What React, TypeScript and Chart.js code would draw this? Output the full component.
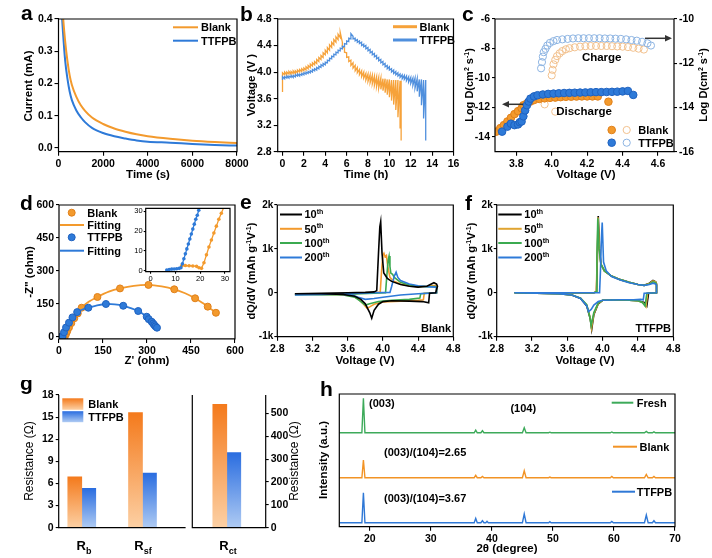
import React, { useEffect, useRef } from "react";
import { Chart, registerables } from "chart.js";

Chart.register(...registerables);

const FONT = "'Liberation Sans', Arial, Helvetica, sans-serif";
Chart.defaults.font.family = FONT;

/* ======================= DATA ======================= */
// (a) current vs time
const A_TIME = [100, 200, 300, 400, 500, 600, 800, 1000, 1200, 1500, 2000, 2500, 3000, 3500, 4000, 5000, 6000, 7000, 8000];
const A_BLANK = [0.52, 0.41, 0.33, 0.27, 0.225, 0.195, 0.158, 0.132, 0.114, 0.094, 0.074, 0.06, 0.05, 0.042, 0.036, 0.028, 0.022, 0.018, 0.015];
const A_TTFPB = [0.47, 0.36, 0.27, 0.215, 0.175, 0.148, 0.116, 0.095, 0.079, 0.062, 0.046, 0.036, 0.029, 0.023, 0.019, 0.016, 0.012, 0.009, 0.007];
const A_X_TICKS = [0, 2000, 4000, 6000, 8000];
const A_Y_TICKS = [0, 0.1, 0.2, 0.3, 0.4];

// (b) GITT voltage profiles: pulse times, closed-circuit and relaxed voltages
const B_BLANK_CH_T = [0, 0.2, 0.4, 0.6, 0.8, 1.0, 1.2, 1.4, 1.6, 1.8, 2.0, 2.2, 2.4, 2.6, 2.8, 3.0, 3.2, 3.4, 3.6, 3.8, 4.0, 4.2, 4.4, 4.6, 4.8, 5.0, 5.2, 5.4];
const B_BLANK_CH_HI = [3.99, 4.0, 4.0, 4.01, 4.01, 4.02, 4.02, 4.03, 4.04, 4.05, 4.06, 4.08, 4.1, 4.12, 4.14, 4.16, 4.19, 4.22, 4.25, 4.29, 4.33, 4.37, 4.41, 4.45, 4.49, 4.53, 4.57, 4.6];
const B_BLANK_CH_LO = [3.7, 3.96, 3.96, 3.97, 3.97, 3.98, 3.98, 3.99, 4.0, 4.01, 4.02, 4.03, 4.05, 4.07, 4.09, 4.11, 4.13, 4.16, 4.19, 4.22, 4.26, 4.29, 4.33, 4.37, 4.41, 4.45, 4.49, 4.52];
const B_BLANK_DIS_T = [5.6, 5.8, 6.0, 6.2, 6.4, 6.6, 6.8, 7.0, 7.2, 7.4, 7.6, 7.8, 8.0, 8.2, 8.4, 8.6, 8.8, 9.0, 9.2, 9.4, 9.6, 9.8, 10.0, 10.2, 10.4, 10.6, 10.8, 11.0, 11.1];
const B_BLANK_DIS_HI = [4.45, 4.36, 4.29, 4.23, 4.18, 4.14, 4.1, 4.07, 4.04, 4.02, 4.0, 3.98, 3.97, 3.96, 3.95, 3.94, 3.93, 3.92, 3.91, 3.9, 3.9, 3.89, 3.89, 3.88, 3.88, 3.88, 3.88, 3.87, 3.87];
const B_BLANK_DIS_LO = [4.38, 4.3, 4.22, 4.16, 4.1, 4.06, 4.02, 3.99, 3.96, 3.93, 3.91, 3.88, 3.86, 3.84, 3.82, 3.8, 3.78, 3.76, 3.74, 3.72, 3.69, 3.66, 3.62, 3.57, 3.51, 3.43, 3.32, 3.15, 2.97];
const B_TTFPB_CH_T = [0, 0.2, 0.4, 0.6, 0.8, 1.0, 1.2, 1.4, 1.6, 1.8, 2.0, 2.2, 2.4, 2.6, 2.8, 3.0, 3.2, 3.4, 3.6, 3.8, 4.0, 4.2, 4.4, 4.6, 4.8, 5.0, 5.2, 5.4, 5.6, 5.8, 6.0, 6.2, 6.4];
const B_TTFPB_CH_HI = [3.93, 3.93, 3.94, 3.94, 3.95, 3.95, 3.96, 3.97, 3.97, 3.98, 3.99, 4.0, 4.01, 4.02, 4.04, 4.05, 4.07, 4.09, 4.11, 4.13, 4.15, 4.18, 4.21, 4.24, 4.27, 4.3, 4.33, 4.36, 4.39, 4.43, 4.47, 4.51, 4.58];
const B_TTFPB_CH_LO = [3.88, 3.9, 3.91, 3.91, 3.92, 3.92, 3.93, 3.94, 3.94, 3.95, 3.96, 3.97, 3.98, 3.99, 4.0, 4.02, 4.03, 4.05, 4.07, 4.09, 4.11, 4.14, 4.17, 4.2, 4.23, 4.26, 4.29, 4.32, 4.35, 4.38, 4.42, 4.46, 4.5];
const B_TTFPB_DIS_T = [6.6, 6.8, 7.0, 7.2, 7.4, 7.6, 7.8, 8.0, 8.2, 8.4, 8.6, 8.8, 9.0, 9.2, 9.4, 9.6, 9.8, 10.0, 10.2, 10.4, 10.6, 10.8, 11.0, 11.2, 11.4, 11.6, 11.8, 12.0, 12.2, 12.4, 12.6, 12.8, 13.0, 13.2, 13.4];
const B_TTFPB_DIS_HI = [4.54, 4.51, 4.49, 4.47, 4.45, 4.42, 4.4, 4.37, 4.34, 4.31, 4.28, 4.25, 4.22, 4.19, 4.16, 4.13, 4.1, 4.08, 4.05, 4.03, 4.01, 3.99, 3.97, 3.96, 3.95, 3.94, 3.93, 3.92, 3.91, 3.91, 3.9, 3.89, 3.89, 3.88, 3.88];
const B_TTFPB_DIS_LO = [4.5, 4.47, 4.45, 4.43, 4.4, 4.38, 4.35, 4.32, 4.29, 4.26, 4.23, 4.2, 4.17, 4.14, 4.11, 4.08, 4.05, 4.03, 4.0, 3.98, 3.96, 3.94, 3.92, 3.9, 3.89, 3.87, 3.85, 3.83, 3.8, 3.76, 3.71, 3.63, 3.5, 3.3, 2.97];
const B_X_TICKS = [0, 2, 4, 6, 8, 10, 12, 14, 16];
const B_Y_TICKS = [2.8, 3.2, 3.6, 4.0, 4.4, 4.8];

// (c) Li diffusion coefficients
const C_BLANK_DIS_V = [3.687, 3.71, 3.73, 3.75, 3.77, 3.79, 3.81, 3.83, 3.84, 3.86, 3.88, 3.9, 3.93, 3.96, 3.99, 4.02, 4.05, 4.08, 4.11, 4.14, 4.17, 4.2, 4.23, 4.26, 4.32];
const C_BLANK_DIS_D = [-13.64, -13.4, -13.2, -12.95, -12.7, -12.45, -12.25, -12.05, -11.85, -11.72, -11.6, -11.5, -11.42, -11.38, -11.35, -11.33, -11.3, -11.28, -11.27, -11.26, -11.25, -11.25, -11.25, -11.25, -11.61];
const C_TTFPB_DIS_V = [3.72, 3.75, 3.77, 3.79, 3.81, 3.82, 3.83, 3.84, 3.85, 3.86, 3.87, 3.88, 3.9, 3.92, 3.95, 3.98, 4.01, 4.04, 4.07, 4.1, 4.13, 4.16, 4.19, 4.22, 4.25, 4.28, 4.31, 4.34, 4.37, 4.4, 4.43, 4.46];
const C_TTFPB_DIS_D = [-13.64, -13.3, -13.1, -13.2, -13.15, -13.0, -12.95, -12.6, -12.2, -11.85, -11.6, -11.4, -11.25, -11.17, -11.12, -11.08, -11.06, -11.04, -11.02, -11.01, -11.0, -10.99, -10.98, -10.97, -10.96, -10.96, -10.95, -10.94, -10.93, -10.91, -10.88, -11.15];
const C_BLANK_CH_V = [4.0, 4.005, 4.01, 4.02, 4.03, 4.045, 4.06, 4.08, 4.1, 4.13, 4.16, 4.19, 4.22, 4.25, 4.28, 4.31, 4.34, 4.37, 4.4, 4.43, 4.46, 4.49, 4.52, 3.96, 4.02];
const C_BLANK_CH_D = [-12.55, -12.3, -12.05, -11.85, -11.68, -11.55, -11.45, -11.37, -11.32, -11.28, -11.25, -11.23, -11.22, -11.22, -11.22, -11.22, -11.23, -11.24, -11.25, -11.27, -11.3, -11.34, -11.38, -13.86, -14.19];
const C_TTFPB_CH_V = [3.94, 3.945, 3.95, 3.955, 3.965, 3.975, 3.99, 4.01, 4.03, 4.06, 4.09, 4.12, 4.15, 4.18, 4.21, 4.24, 4.27, 4.3, 4.33, 4.36, 4.39, 4.42, 4.45, 4.48, 4.51, 4.54, 4.56];
const C_TTFPB_CH_D = [-12.23, -11.95, -11.7, -11.5, -11.35, -11.2, -11.08, -11.0, -10.95, -10.92, -10.9, -10.88, -10.87, -10.87, -10.87, -10.87, -10.87, -10.88, -10.88, -10.89, -10.9, -10.92, -10.95, -10.98, -11.03, -11.1, -11.2];
const C_X_TICKS = [3.8, 4.0, 4.2, 4.4, 4.6];
const C_YL_TICKS = [-14, -12, -10, -8, -6];
const C_YR_TICKS = [-16, -14, -12, -10];

// (d) EIS Nyquist
const D_BLANK_X = [13, 20, 24, 28, 34, 42, 52, 64, 77, 131, 208, 305, 393, 464, 507, 535];
const D_BLANK_Y = [2.5, 1.5, 12, 25, 42, 62, 84, 106, 132, 181, 220, 236, 216, 175, 137, 109];
const D_BLANK_FIT_X = [20, 24, 30, 40, 55, 77, 100, 131, 170, 208, 255, 305, 350, 393, 430, 464, 490, 507, 535];
const D_BLANK_FIT_Y = [0, 12, 32, 58, 90, 132, 158, 181, 205, 220, 232, 236, 229, 216, 198, 175, 153, 137, 109];
const D_TTFPB_X = [7, 12, 17, 24, 34, 46, 62, 100, 160, 219, 270, 299, 306, 316, 321, 325, 329, 334];
const D_TTFPB_Y = [0.5, 1, 20, 42, 64, 88, 112, 132, 149, 141, 117, 91, 80, 68, 60, 53, 47, 41];
const D_TTFPB_FIT_X = [10, 17, 24, 34, 46, 62, 80, 100, 130, 160, 190, 219, 245, 270, 299, 316, 334];
const D_TTFPB_FIT_Y = [0, 20, 42, 64, 88, 112, 124, 132, 143, 149, 147, 141, 130, 117, 91, 68, 41];
const D_IN_BLANK_X = [12.5, 14, 15.5, 17, 18.5, 19.5, 20.5, 21.5, 22.5, 23.5, 24.5, 25.5, 26.5, 27.5, 28.5, 29.5];
const D_IN_BLANK_Y = [2.5, 2.6, 2.5, 2.4, 2.2, 1.5, 1.2, 4, 8, 12, 15.5, 19, 22.5, 26, 29, 32];
const D_IN_TTFPB_X = [6.5, 7.5, 8.5, 9.5, 10.5, 11.5, 12.2, 12.8, 13.4, 14, 14.6, 15.2, 15.8, 16.4, 17, 17.6, 18.2, 18.8, 19.4, 20];
const D_IN_TTFPB_Y = [0.3, 0.6, 0.8, 0.9, 1, 1.2, 1.5, 3.5, 6, 8.5, 11, 13.5, 16, 18.5, 21, 23.5, 26, 28, 30.5, 33];
const D_TICKS = [0, 150, 300, 450, 600];
const D_IN_TICKS = [0, 10, 20, 30];

// (e) dQ/dV Blank (k = 1000 mAh g-1 V-1)
const E_10_V = [3.0, 3.3, 3.6, 3.8, 3.9, 3.93, 3.95, 3.965, 3.975, 3.99, 4.01, 4.05, 4.1, 4.2, 4.3, 4.4, 4.5, 4.55, 4.58, 4.61, 4.62, 4.6, 4.53, 4.52, 4.45, 4.3, 4.1, 4.0, 3.95, 3.9, 3.873, 3.85, 3.8, 3.75, 3.68, 3.55, 3.3, 3.0];
const E_10_Y = [-0.02, -0.01, 0, 0.01, 0.02, 0.05, 0.9, 1.5, 1.62, 0.9, 0.45, 0.33, 0.26, 0.19, 0.15, 0.13, 0.15, 0.2, 0.23, 0.2, 0.15, 0, -0.01, -0.23, -0.2, -0.19, -0.18, -0.2, -0.26, -0.4, -0.58, -0.45, -0.25, -0.15, -0.08, -0.04, -0.02, -0.02];
const E_50_V = [3.0, 3.3, 3.6, 3.9, 3.97, 3.985, 4.0, 4.012, 4.025, 4.04, 4.055, 4.08, 4.12, 4.2, 4.3, 4.4, 4.5, 4.6, 4.61, 4.61, 4.47, 4.46, 4.4, 4.2, 4.0, 3.9, 3.85, 3.82, 3.78, 3.72, 3.65, 3.5, 3.0];
const E_50_Y = [-0.04, -0.03, -0.02, 0, 0.02, 0.5, 0.85, 0.9, 0.82, 0.85, 0.6, 0.35, 0.27, 0.2, 0.16, 0.14, 0.15, 0.17, 0.15, 0, -0.01, -0.16, -0.17, -0.19, -0.21, -0.26, -0.32, -0.35, -0.26, -0.14, -0.07, -0.04, -0.03];
const E_100_V = [3.0, 3.3, 3.6, 3.9, 4.03, 4.045, 4.06, 4.07, 4.08, 4.09, 4.11, 4.13, 4.2, 4.3, 4.4, 4.5, 4.6, 4.61, 4.61, 4.43, 4.42, 4.3, 4.1, 3.95, 3.85, 3.8, 3.75, 3.68, 3.55, 3.0];
const E_100_Y = [-0.05, -0.04, -0.03, -0.01, 0, 0.4, 0.75, 0.84, 0.6, 0.45, 0.42, 0.35, 0.24, 0.18, 0.15, 0.14, 0.14, 0.12, 0, -0.02, -0.12, -0.15, -0.17, -0.2, -0.25, -0.28, -0.2, -0.1, -0.05, -0.04];
const E_200_V = [3.0, 3.3, 3.6, 3.9, 4.08, 4.1, 4.13, 4.15, 4.17, 4.2, 4.3, 4.4, 4.5, 4.6, 4.61, 4.61, 4.4, 4.2, 4.0, 3.9, 3.8, 3.72, 3.65, 3.5, 3.0];
const E_200_Y = [-0.05, -0.04, -0.02, 0, 0.01, 0.15, 0.38, 0.47, 0.35, 0.28, 0.2, 0.16, 0.14, 0.13, 0.1, 0, -0.02, -0.05, -0.1, -0.13, -0.15, -0.1, -0.05, -0.03, -0.02];

// (f) dQ/dV TTFPB
const F_10_V = [3.0, 3.5, 3.9, 3.93, 3.94, 3.95, 3.965, 3.98, 4.02, 4.1, 4.2, 4.3, 4.4, 4.47, 4.53, 4.57, 4.6, 4.61, 4.61, 4.52, 4.5, 4.47, 4.4, 4.2, 4.0, 3.95, 3.9, 3.876, 3.86, 3.82, 3.75, 3.65, 3.5, 3.0];
const F_10_Y = [0, 0, 0, 0.02, 0.8, 1.75, 1.0, 0.65, 0.5, 0.38, 0.3, 0.24, 0.19, 0.17, 0.22, 0.28, 0.25, 0.2, 0, -0.01, -0.3, -0.22, -0.18, -0.16, -0.17, -0.25, -0.5, -0.83, -0.6, -0.3, -0.13, -0.05, -0.02, 0];
const F_50_V = [3.0, 3.5, 3.9, 3.928, 3.938, 3.948, 3.963, 3.98, 4.02, 4.1, 4.2, 4.3, 4.4, 4.47, 4.53, 4.57, 4.6, 4.61, 4.61, 4.51, 4.49, 4.46, 4.4, 4.2, 4.0, 3.95, 3.9, 3.874, 3.86, 3.82, 3.75, 3.65, 3.5, 3.0];
const F_50_Y = [0, 0, 0, 0.02, 0.8, 1.72, 1.0, 0.66, 0.5, 0.38, 0.3, 0.24, 0.19, 0.17, 0.21, 0.27, 0.25, 0.2, 0, -0.01, -0.32, -0.23, -0.18, -0.16, -0.17, -0.24, -0.48, -0.8, -0.58, -0.28, -0.12, -0.05, -0.02, 0];
const F_100_V = [3.0, 3.5, 3.9, 3.925, 3.935, 3.945, 3.96, 3.98, 4.02, 4.1, 4.2, 4.3, 4.4, 4.47, 4.53, 4.57, 4.6, 4.61, 4.61, 4.5, 4.48, 4.45, 4.4, 4.2, 4.0, 3.95, 3.9, 3.87, 3.855, 3.82, 3.75, 3.65, 3.5, 3.0];
const F_100_Y = [0, 0, 0, 0.02, 0.8, 1.7, 1.0, 0.66, 0.5, 0.38, 0.3, 0.24, 0.19, 0.17, 0.2, 0.25, 0.23, 0.18, 0, -0.01, -0.3, -0.22, -0.18, -0.16, -0.17, -0.23, -0.45, -0.75, -0.55, -0.27, -0.12, -0.05, -0.02, 0];
const F_200_V = [3.0, 3.5, 3.9, 3.965, 3.975, 3.985, 3.995, 4.01, 4.04, 4.1, 4.2, 4.3, 4.4, 4.47, 4.53, 4.57, 4.6, 4.61, 4.61, 4.47, 4.46, 4.43, 4.35, 4.2, 4.0, 3.95, 3.9, 3.87, 3.84, 3.82, 3.75, 3.65, 3.5, 3.0];
const F_200_Y = [0, 0, 0, 0, 0.5, 1.2, 1.6, 0.7, 0.5, 0.37, 0.29, 0.23, 0.19, 0.17, 0.19, 0.22, 0.2, 0.17, 0, -0.01, -0.16, -0.15, -0.16, -0.16, -0.17, -0.2, -0.28, -0.38, -0.43, -0.3, -0.13, -0.05, -0.02, 0];
const EF_X_TICKS = [2.8, 3.2, 3.6, 4.0, 4.4, 4.8];
const EF_Y_TICKS = [-1, 0, 1, 2];
const EF_CYCLES = ["10", "50", "100", "200"];

// (g) fitted resistances
const G_POS = [1, 2]; // R_b, R_sf
const G_BLANK = [6.9, 15.6];
const G_TTFPB = [5.35, 7.4];
const G_RCT_POS = [0.47];
const G_RCT_BLANK = [539];
const G_RCT_TTFPB = [328];
const G_L_TICKS = [0, 3, 6, 9, 12, 15, 18];
const G_R_TICKS = [0, 100, 200, 300, 400, 500];

// (h) XRD patterns (relative intensity)
const H_X = [15, 18.7, 18.95, 19.2, 37.1, 37.35, 37.6, 38.2, 38.45, 38.7, 39.0, 39.2, 39.4, 45.0, 45.3, 45.6, 49.3, 49.5, 49.7, 59.4, 59.65, 59.9, 65.0, 65.3, 65.6, 66.3, 66.55, 66.8, 70];
const H_FRESH = [0, 0, 26, 0, 0, 2, 0, 0, 1.5, 0, 0, 0, 0, 0, 3.8, 0, 0, 0.4, 0, 0, 0.6, 0, 0, 1, 0, 0, 0.7, 0, 0];
const H_BLANK = [0, 0, 13.4, 0, 0, 1.8, 0, 0, 1, 0, 0, 0, 0, 0, 5.3, 0, 0, 0.5, 0, 0, 1, 0, 0, 2.5, 0, 0, 1, 0, 0];
const H_TTFPB = [0, 0, 22.6, 0, 0, 3.3, 0, 0, 1.5, 0, 0, 1, 0, 0, 6.6, 0, 0, 0.8, 0, 0, 1, 0, 0, 5.8, 0, 0, 1.5, 0, 0];
const H_X_TICKS = [20, 30, 40, 50, 60, 70];

/* ======================= STYLE ======================= */
const ORANGE = "#F39A2D";
const BLUE = "#2E7AD8";
const GREEN = "#3BAA50";
const BLACK = "#000000";
const H_OFFSET = { fresh: 70.8, blank: 36.9, ttfpb: 3.0 };
const TICK_FS = 10.5;
const TITLE_FS = 11.5;
const LEG_FS = 11;

type Box = { x: number; y: number; w: number; h: number };
type Plot = { L: number; T: number; R: number; B: number };

const xy = (xs: number[], ys: number[], dy = 0) => xs.map((x, i) => ({ x, y: ys[i] + dy }));

function sawCharge(t: number[], lo: number[], hi: number[]) {
  const p: any[] = [];
  t.forEach((v, i) => { p.push({ x: v, y: lo[i] }); p.push({ x: v, y: hi[i] }); });
  return p;
}
function sawDischarge(t: number[], hi: number[], lo: number[]) {
  const p: any[] = [];
  t.forEach((v, i) => { p.push({ x: v, y: hi[i] }); p.push({ x: v, y: lo[i] }); });
  return p;
}

function axis(pos: string, min: number, max: number, ticks: number[], size: number, fmt: (v: number) => string, o: any = {}) {
  const horiz = pos === "bottom" || pos === "top";
  return {
    type: "linear",
    position: pos,
    min,
    max,
    bounds: "data",
    offset: false,
    afterBuildTicks: (s: any) => { s.ticks = ticks.map((v) => ({ value: v })); },
    afterFit: (s: any) => {
      if (horiz) s.height = size; else s.width = size;
      s.paddingLeft = 0; s.paddingRight = 0; s.paddingTop = 0; s.paddingBottom = 0;
    },
    grid: { display: o.grid !== false, drawOnChartArea: false, drawTicks: true, tickLength: o.tickLength ?? 4, color: "#000", lineWidth: 1.1, offset: false },
    border: { display: false },
    ticks: {
      display: o.labels !== false,
      autoSkip: false,
      maxRotation: 0,
      minRotation: 0,
      padding: o.padding ?? 2,
      color: "#000",
      font: { family: FONT, size: o.fontSize ?? TICK_FS, weight: o.weight ?? "bold" },
      callback: (v: any) => fmt(Number(v)),
    },
    title: { display: false },
  };
}

function opts(box: Box, plot: Plot, scales: any, side: { right?: boolean; noLeft?: boolean } = {}) {
  return {
    responsive: false,
    maintainAspectRatio: false,
    animation: false,
    events: [],
    layout: {
      padding: {
        left: side.noLeft ? plot.L - box.x : 0,
        top: plot.T - box.y,
        right: side.right ? 0 : box.x + box.w - plot.R,
        bottom: 0,
      },
    },
    plugins: { legend: { display: false }, tooltip: { enabled: false } },
    scales,
  };
}
const ml = (b: Box, p: Plot) => p.L - b.x;
const mb = (b: Box, p: Plot) => b.y + b.h - p.B;
const mr = (b: Box, p: Plot) => b.x + b.w - p.R;

function lineDs(data: any[], color: string, width: number, extra: any = {}) {
  return { data, showLine: true, borderColor: color, backgroundColor: color, borderWidth: width, pointRadius: 0, fill: false, ...extra };
}
function pointDs(data: any[], fill: string, stroke: string, r: number, extra: any = {}) {
  return { data, showLine: false, pointRadius: r, pointBackgroundColor: fill, pointBorderColor: stroke, pointBorderWidth: 1, backgroundColor: fill, borderColor: stroke, ...extra };
}

/* ---------- drawing helpers (page coordinates) ---------- */
function rich(ctx: CanvasRenderingContext2D, parts: any[], x: number, y: number, o: any = {}) {
  const size = o.size ?? TITLE_FS;
  const weight = o.bold === false ? "normal" : "bold";
  const small = Math.round(size * 0.68);
  ctx.save();
  ctx.fillStyle = o.color ?? "#000";
  ctx.textBaseline = "alphabetic";
  ctx.textAlign = "left";
  ctx.translate(x, y);
  if (o.rot) ctx.rotate(o.rot);
  const widths = parts.map(([s, k]) => { ctx.font = `${weight} ${k ? small : size}px ${FONT}`; return ctx.measureText(s).width; });
  const total = widths.reduce((a: number, b: number) => a + b, 0);
  let cx = o.align === "center" ? -total / 2 : o.align === "right" ? -total : 0;
  const base = size * 0.36;
  parts.forEach(([s, k], i) => {
    ctx.font = `${weight} ${k ? small : size}px ${FONT}`;
    const dy = k === 1 ? -size * 0.4 : k === -1 ? size * 0.3 : 0;
    ctx.fillText(s, cx, base + dy);
    cx += widths[i];
  });
  ctx.restore();
}
const text = (ctx: CanvasRenderingContext2D, s: string, x: number, y: number, o: any = {}) => rich(ctx, [[s, 0]], x, y, o);
const ROT = -Math.PI / 2;

function letter(ctx: CanvasRenderingContext2D, s: string, x: number, baseline: number) {
  ctx.save();
  ctx.font = `bold 21px ${FONT}`;
  ctx.fillStyle = "#000";
  ctx.textBaseline = "alphabetic";
  ctx.fillText(s, x, baseline);
  ctx.restore();
}
function hline(ctx: CanvasRenderingContext2D, x1: number, x2: number, y: number, color: string, w = 2) {
  ctx.save();
  ctx.strokeStyle = color;
  ctx.lineWidth = w;
  ctx.beginPath();
  ctx.moveTo(x1, y);
  ctx.lineTo(x2, y);
  ctx.stroke();
  ctx.restore();
}
function dot(ctx: CanvasRenderingContext2D, x: number, y: number, r: number, fill: string | null, stroke: string) {
  ctx.save();
  ctx.beginPath();
  ctx.arc(x, y, r, 0, Math.PI * 2);
  if (fill) { ctx.fillStyle = fill; ctx.fill(); }
  ctx.strokeStyle = stroke;
  ctx.lineWidth = 1;
  ctx.stroke();
  ctx.restore();
}
function arrow(ctx: CanvasRenderingContext2D, x1: number, x2: number, y: number, color: string) {
  const dir = x2 > x1 ? 1 : -1;
  ctx.save();
  ctx.strokeStyle = color;
  ctx.fillStyle = color;
  ctx.lineWidth = 1.5;
  ctx.beginPath();
  ctx.moveTo(x1, y);
  ctx.lineTo(x2 - 5 * dir, y);
  ctx.stroke();
  ctx.beginPath();
  ctx.moveTo(x2, y);
  ctx.lineTo(x2 - 7 * dir, y - 3.2);
  ctx.lineTo(x2 - 7 * dir, y + 3.2);
  ctx.closePath();
  ctx.fill();
  ctx.restore();
}

function decor(box: Box, sides: string, draw: (ctx: CanvasRenderingContext2D) => void, bg = false) {
  return {
    id: "decor",
    beforeDraw(chart: any) {
      if (!bg) return;
      const a = chart.chartArea;
      const ctx = chart.ctx;
      ctx.save();
      ctx.fillStyle = "#fff";
      ctx.fillRect(a.left, a.top, a.right - a.left, a.bottom - a.top);
      ctx.restore();
    },
    afterDraw(chart: any) {
      const ctx = chart.ctx as CanvasRenderingContext2D;
      const a = chart.chartArea;
      ctx.save();
      ctx.strokeStyle = "#000";
      ctx.lineWidth = 1.2;
      ctx.beginPath();
      if (sides.includes("l")) { ctx.moveTo(a.left, a.top); ctx.lineTo(a.left, a.bottom); }
      if (sides.includes("b")) { ctx.moveTo(a.left - 0.6, a.bottom); ctx.lineTo(a.right + 0.6, a.bottom); }
      if (sides.includes("r")) { ctx.moveTo(a.right, a.top); ctx.lineTo(a.right, a.bottom); }
      if (sides.includes("t")) { ctx.moveTo(a.left - 0.6, a.top); ctx.lineTo(a.right + 0.6, a.top); }
      ctx.stroke();
      ctx.translate(-box.x, -box.y);
      draw(ctx);
      ctx.restore();
    },
  };
}

function grad(dark: string, light: string) {
  return (c: any) => {
    const chart = c.chart;
    const ys = chart.scales && chart.scales.y;
    if (!chart.chartArea || !ys || !c.raw) return dark;
    const top = ys.getPixelForValue(c.raw.y);
    const bot = ys.getPixelForValue(0);
    const g = chart.ctx.createLinearGradient(0, top, 0, bot);
    g.addColorStop(0, dark);
    g.addColorStop(1, light);
    return g;
  };
}
const G_BLANK_DARK = "#F47A1C";
const G_BLANK_LIGHT = "#FCD0A4";
const G_TTFPB_DARK = "#2A6DE0";
const G_TTFPB_LIGHT = "#AFCBF3";

/* ======================= PANELS ======================= */
const BOX_A: Box = { x: 5, y: 0, w: 250, h: 185 };
const PLOT_A: Plot = { L: 58.5, T: 19, R: 237, B: 151.7 };
function configA() {
  return {
    type: "scatter",
    data: {
      datasets: [
        lineDs(xy(A_TIME, A_BLANK), ORANGE, 2, { cubicInterpolationMode: "monotone" }),
        lineDs(xy(A_TIME, A_TTFPB), BLUE, 2, { cubicInterpolationMode: "monotone" }),
      ],
    },
    options: opts(BOX_A, PLOT_A, {
      x: axis("bottom", 0, 8000, A_X_TICKS, mb(BOX_A, PLOT_A), (v) => String(v)),
      y: axis("left", -0.012, 0.4, A_Y_TICKS, ml(BOX_A, PLOT_A), (v) => v.toFixed(1)),
    }),
    plugins: [
      decor(BOX_A, "lbrt", (ctx) => {
        letter(ctx, "a", 21, 20);
        text(ctx, "Current (mA)", 28, 86, { rot: ROT, align: "center" });
        text(ctx, "Time (s)", 148, 174, { align: "center" });
        hline(ctx, 173, 198, 27.3, ORANGE, 2);
        text(ctx, "Blank", 201, 27.3, { size: LEG_FS });
        hline(ctx, 173, 198, 40.7, BLUE, 2);
        text(ctx, "TTFPB", 201, 40.7, { size: LEG_FS });
      }),
    ],
  };
}

const BOX_B: Box = { x: 235, y: 0, w: 230, h: 185 };
const PLOT_B: Plot = { L: 277.7, T: 19, R: 453.5, B: 151.7 };
const B_ORANGE = "#F6A23A";
const B_BLUE = "#4F8FDD";
function configB() {
  return {
    type: "scatter",
    data: {
      datasets: [
        lineDs([...sawCharge(B_TTFPB_CH_T, B_TTFPB_CH_LO, B_TTFPB_CH_HI), ...sawDischarge(B_TTFPB_DIS_T, B_TTFPB_DIS_HI, B_TTFPB_DIS_LO)], B_BLUE, 1.3),
        lineDs([...sawCharge(B_BLANK_CH_T, B_BLANK_CH_LO, B_BLANK_CH_HI), ...sawDischarge(B_BLANK_DIS_T, B_BLANK_DIS_HI, B_BLANK_DIS_LO)], B_ORANGE, 1.3),
      ],
    },
    options: opts(BOX_B, PLOT_B, {
      x: axis("bottom", -0.45, 16, B_X_TICKS, mb(BOX_B, PLOT_B), (v) => String(v)),
      y: axis("left", 2.8, 4.8, B_Y_TICKS, ml(BOX_B, PLOT_B), (v) => v.toFixed(1)),
    }),
    plugins: [
      decor(BOX_B, "lbrt", (ctx) => {
        letter(ctx, "b", 240, 21);
        text(ctx, "Voltage (V )", 250.5, 85, { rot: ROT, align: "center" });
        text(ctx, "Time (h)", 366, 174, { align: "center" });
        hline(ctx, 393, 417, 26.7, B_ORANGE, 3);
        text(ctx, "Blank", 419.5, 26.7, { size: LEG_FS });
        hline(ctx, 393, 417, 40, B_BLUE, 3);
        text(ctx, "TTFPB", 419.5, 40, { size: LEG_FS });
      }),
    ],
  };
}

const BOX_C: Box = { x: 455, y: 0, w: 257, h: 185 };
const PLOT_C: Plot = { L: 495, T: 19, R: 674, B: 151.7 };
const C_OPEN_ORANGE = "#F2C18E";
const C_OPEN_BLUE = "#8DB4E2";
function configC() {
  return {
    type: "scatter",
    data: {
      datasets: [
        pointDs(xy(C_TTFPB_DIS_V, C_TTFPB_DIS_D), BLUE, "#1F62C0", 3.8),
        pointDs(xy(C_BLANK_DIS_V, C_BLANK_DIS_D), ORANGE, "#E0801A", 3.8),
        pointDs(xy(C_TTFPB_CH_V, C_TTFPB_CH_D), "rgba(255,255,255,0)", C_OPEN_BLUE, 3.6, { yAxisID: "y2" }),
        pointDs(xy(C_BLANK_CH_V, C_BLANK_CH_D), "rgba(255,255,255,0)", C_OPEN_ORANGE, 3.6, { yAxisID: "y2" }),
      ],
    },
    options: opts(BOX_C, PLOT_C, {
      x: axis("bottom", 3.68, 4.69, C_X_TICKS, mb(BOX_C, PLOT_C), (v) => v.toFixed(1)),
      y: axis("left", -15, -6, C_YL_TICKS, ml(BOX_C, PLOT_C), (v) => String(v), { tickLength: 3 }),
      y2: axis("right", -16, -10, C_YR_TICKS, mr(BOX_C, PLOT_C), (v) => String(v), { tickLength: 3 }),
    }, { right: true }),
    plugins: [
      decor(BOX_C, "lbrt", (ctx) => {
        letter(ctx, "c", 462, 21);
        const t = [["Log D(cm", 0], ["2", 1], [" s", 0], ["-1", 1], [")", 0]];
        rich(ctx, t, 469, 85, { rot: ROT, align: "center", size: 11 });
        rich(ctx, t, 703, 85, { rot: ROT, align: "center", size: 11 });
        text(ctx, "Voltage (V)", 586, 174, { align: "center" });
        text(ctx, "Charge", 601.7, 56.7, { align: "center" });
        text(ctx, "Discharge", 584, 111, { align: "center" });
        arrow(ctx, 523, 502, 104.3, "#333");
        arrow(ctx, 645, 672, 38.3, "#333");
        dot(ctx, 611.7, 130, 3.8, ORANGE, "#E0801A");
        dot(ctx, 626.7, 130, 3.6, null, C_OPEN_ORANGE);
        text(ctx, "Blank", 638.3, 130, { size: LEG_FS });
        dot(ctx, 611.7, 142.7, 3.8, BLUE, "#1F62C0");
        dot(ctx, 626.7, 142.7, 3.6, null, C_OPEN_BLUE);
        text(ctx, "TTFPB", 638.3, 142.7, { size: LEG_FS });
      }),
    ],
  };
}

const BOX_D: Box = { x: 5, y: 190, w: 245, h: 185 };
const PLOT_D: Plot = { L: 59, T: 205, R: 235, B: 338.9 };
function configD() {
  return {
    type: "scatter",
    data: {
      datasets: [
        pointDs(xy(D_TTFPB_X, D_TTFPB_Y), BLUE, "#1F62C0", 3.5),
        lineDs(xy(D_TTFPB_FIT_X, D_TTFPB_FIT_Y), BLUE, 1.8, { tension: 0.3 }),
        pointDs(xy(D_BLANK_X, D_BLANK_Y), ORANGE, "#E0801A", 3.5),
        lineDs(xy(D_BLANK_FIT_X, D_BLANK_FIT_Y), ORANGE, 1.8, { tension: 0.3 }),
      ],
    },
    options: opts(BOX_D, PLOT_D, {
      x: axis("bottom", 0, 600, D_TICKS, mb(BOX_D, PLOT_D), (v) => String(v)),
      y: axis("left", -10, 600, D_TICKS, ml(BOX_D, PLOT_D), (v) => String(v), { tickLength: 3 }),
    }),
    plugins: [
      decor(BOX_D, "lbrt", (ctx) => {
        letter(ctx, "d", 20, 210);
        text(ctx, "-Z'' (ohm)", 29, 272, { rot: ROT, align: "center" });
        text(ctx, "Z' (ohm)", 147, 360, { align: "center" });
        dot(ctx, 71.7, 212.7, 3.5, ORANGE, "#E0801A");
        text(ctx, "Blank", 87.3, 212.7, { size: LEG_FS });
        hline(ctx, 60, 84, 225, ORANGE, 2);
        text(ctx, "Fitting", 87.3, 225, { size: LEG_FS });
        dot(ctx, 71.7, 237.3, 3.5, BLUE, "#1F62C0");
        text(ctx, "TTFPB", 87.3, 237.3, { size: LEG_FS });
        hline(ctx, 60, 84, 250.7, BLUE, 2);
        text(ctx, "Fitting", 87.3, 250.7, { size: LEG_FS });
      }),
    ],
  };
}

const BOX_DI: Box = { x: 130, y: 200, w: 110, h: 90 };
const PLOT_DI: Plot = { L: 145.7, T: 208.3, R: 230, B: 271.7 };
function configDI() {
  return {
    type: "scatter",
    data: {
      datasets: [
        lineDs(xy(D_IN_TTFPB_X, D_IN_TTFPB_Y), BLUE, 1.3, { pointRadius: 1.8, pointBackgroundColor: BLUE, pointBorderWidth: 0 }),
        lineDs(xy(D_IN_BLANK_X, D_IN_BLANK_Y), ORANGE, 1.3, { pointRadius: 1.8, pointBackgroundColor: ORANGE, pointBorderWidth: 0 }),
      ],
    },
    options: opts(BOX_DI, PLOT_DI, {
      x: axis("bottom", -2, 32, D_IN_TICKS, mb(BOX_DI, PLOT_DI), (v) => String(v), { fontSize: 7.5, weight: "normal", tickLength: 2, padding: 1 }),
      y: axis("left", -0.5, 31.5, D_IN_TICKS, ml(BOX_DI, PLOT_DI), (v) => String(v), { fontSize: 7.5, weight: "normal", tickLength: 2, padding: 1 }),
    }),
    plugins: [decor(BOX_DI, "lbrt", () => {}, true)],
  };
}

function efLegend(ctx: CanvasRenderingContext2D, x1: number, x2: number, tx: number, colors: string[]) {
  const ys = [214.5, 228.8, 243, 257.5];
  EF_CYCLES.forEach((c, i) => {
    hline(ctx, x1, x2, ys[i], colors[i], 2);
    rich(ctx, [[c, 0], ["th", 1]], tx, ys[i], { size: LEG_FS });
  });
}

const BOX_E: Box = { x: 235, y: 190, w: 230, h: 185 };
const PLOT_E: Plot = { L: 277.3, T: 205, R: 453.3, B: 336.7 };
const E_COLORS = [BLACK, ORANGE, GREEN, BLUE];
const EF_TICK = { tickLength: 3, padding: 1, fontSize: 10 };
function configE() {
  return {
    type: "scatter",
    data: {
      datasets: [
        lineDs(xy(E_10_V, E_10_Y), BLACK, 1.6),
        lineDs(xy(E_200_V, E_200_Y), BLUE, 1.6),
        lineDs(xy(E_100_V, E_100_Y), GREEN, 1.6),
        lineDs(xy(E_50_V, E_50_Y), ORANGE, 1.6),
      ],
    },
    options: opts(BOX_E, PLOT_E, {
      x: axis("bottom", 2.8, 4.8, EF_X_TICKS, mb(BOX_E, PLOT_E), (v) => v.toFixed(1)),
      y: axis("left", -1, 2, EF_Y_TICKS, ml(BOX_E, PLOT_E), (v) => (v === 0 ? "0" : `${v}k`), EF_TICK),
    }),
    plugins: [
      decor(BOX_E, "lbrt", (ctx) => {
        letter(ctx, "e", 240, 209);
        rich(ctx, [["dQ/dV (mAh g", 0], ["-1", 1], ["V", 0], ["-1", 1], [")", 0]], 251.5, 271, { rot: ROT, align: "center", size: 11 });
        text(ctx, "Voltage (V)", 365, 360, { align: "center" });
        efLegend(ctx, 280, 302, 304.5, E_COLORS);
        text(ctx, "Blank", 451, 328, { align: "right", size: LEG_FS });
      }),
    ],
  };
}

const BOX_F: Box = { x: 455, y: 190, w: 240, h: 185 };
const PLOT_F: Plot = { L: 496.7, T: 205, R: 673.3, B: 336.7 };
const F_ORANGE = "#E0A431";
const F_COLORS = [BLACK, F_ORANGE, GREEN, BLUE];
function configF() {
  return {
    type: "scatter",
    data: {
      datasets: [
        lineDs(xy(F_200_V, F_200_Y), BLUE, 1.6),
        lineDs(xy(F_100_V, F_100_Y), GREEN, 1.6),
        lineDs(xy(F_50_V, F_50_Y), F_ORANGE, 1.6),
        lineDs(xy(F_10_V, F_10_Y), BLACK, 1.6),
      ],
    },
    options: opts(BOX_F, PLOT_F, {
      x: axis("bottom", 2.8, 4.8, EF_X_TICKS, mb(BOX_F, PLOT_F), (v) => v.toFixed(1)),
      y: axis("left", -1, 2, EF_Y_TICKS, ml(BOX_F, PLOT_F), (v) => (v === 0 ? "0" : `${v}k`), EF_TICK),
    }),
    plugins: [
      decor(BOX_F, "lbrt", (ctx) => {
        letter(ctx, "f", 465, 210);
        rich(ctx, [["dQ/dV (mAh g", 0], ["-1", 1], ["V", 0], ["-1", 1], [")", 0]], 471.5, 271, { rot: ROT, align: "center", size: 11 });
        text(ctx, "Voltage (V)", 585, 360, { align: "center" });
        efLegend(ctx, 498.3, 521.7, 524.3, F_COLORS);
        text(ctx, "TTFPB", 671, 328, { align: "right", size: LEG_FS });
      }),
    ],
  };
}

function gradBox(ctx: CanvasRenderingContext2D, x: number, y: number, w: number, h: number, dark: string, light: string) {
  const g = ctx.createLinearGradient(0, y, 0, y + h);
  g.addColorStop(0, dark);
  g.addColorStop(1, light);
  ctx.save();
  ctx.fillStyle = g;
  ctx.fillRect(x, y, w, h);
  ctx.restore();
}

const BOX_GL: Box = { x: 5, y: 380, w: 186, h: 178 };
const PLOT_GL: Plot = { L: 58.7, T: 395, R: 185, B: 527.7 };
function configGL() {
  return {
    type: "bar",
    data: {
      datasets: [
        { data: xy(G_POS, G_BLANK), backgroundColor: grad(G_BLANK_DARK, G_BLANK_LIGHT), barThickness: 14, borderWidth: 0 },
        { data: xy(G_POS, G_TTFPB), backgroundColor: grad(G_TTFPB_DARK, G_TTFPB_LIGHT), barThickness: 14, borderWidth: 0 },
      ],
    },
    options: opts(BOX_GL, PLOT_GL, {
      x: axis("bottom", 0.62, 2.7, G_POS, mb(BOX_GL, PLOT_GL), () => "", { grid: false, labels: false }),
      y: axis("left", 0, 18, G_L_TICKS, ml(BOX_GL, PLOT_GL), (v) => String(v), { tickLength: 3 }),
    }),
    plugins: [
      decor(BOX_GL, "lb", (ctx) => {
        letter(ctx, "g", 20, 390);
        text(ctx, "Resistance (\u03A9)", 28.3, 461, { rot: ROT, align: "center", bold: false, size: 12 });
        gradBox(ctx, 62.3, 398.3, 21, 11.5, G_BLANK_DARK, G_BLANK_LIGHT);
        gradBox(ctx, 62.3, 411.2, 21, 11, G_TTFPB_DARK, G_TTFPB_LIGHT);
        text(ctx, "Blank", 88.3, 404, { size: LEG_FS });
        text(ctx, "TTFPB", 88.3, 416.8, { size: LEG_FS });
        rich(ctx, [["R", 0], ["b", -1]], 84, 545.5, { size: 13, align: "center" });
        rich(ctx, [["R", 0], ["sf", -1]], 143, 545.5, { size: 13, align: "center" });
      }),
    ],
  };
}

const BOX_GR: Box = { x: 187, y: 380, w: 120, h: 178 };
const PLOT_GR: Plot = { L: 192.3, T: 395, R: 265.7, B: 527.7 };
function configGR() {
  return {
    type: "bar",
    data: {
      datasets: [
        { data: xy(G_RCT_POS, G_RCT_BLANK), backgroundColor: grad(G_BLANK_DARK, G_BLANK_LIGHT), barThickness: 14, borderWidth: 0 },
        { data: xy(G_RCT_POS, G_RCT_TTFPB), backgroundColor: grad(G_TTFPB_DARK, G_TTFPB_LIGHT), barThickness: 14, borderWidth: 0 },
      ],
    },
    options: opts(BOX_GR, PLOT_GR, {
      x: axis("bottom", 0, 1, G_RCT_POS, mb(BOX_GR, PLOT_GR), () => "", { grid: false, labels: false }),
      y: axis("right", 0, 580, G_R_TICKS, mr(BOX_GR, PLOT_GR), (v) => String(v), { tickLength: 3 }),
    }, { right: true, noLeft: true }),
    plugins: [
      decor(BOX_GR, "lbr", (ctx) => {
        text(ctx, "Resistance (\u03A9)", 294, 461, { rot: ROT, align: "center", bold: false, size: 12 });
        rich(ctx, [["R", 0], ["ct", -1]], 228, 545.5, { size: 13, align: "center" });
      }),
    ],
  };
}

const BOX_H: Box = { x: 300, y: 380, w: 400, h: 178 };
const PLOT_H: Plot = { L: 339.3, T: 394, R: 675, B: 526.7 };
const H_GREEN = "#3DAA5A";
const H_ORANGE = "#F29325";
const H_BLUE = "#2F78D6";
function configH() {
  return {
    type: "scatter",
    data: {
      datasets: [
        lineDs(xy(H_X, H_FRESH, H_OFFSET.fresh), H_GREEN, 1.4),
        lineDs(xy(H_X, H_BLANK, H_OFFSET.blank), H_ORANGE, 1.4),
        lineDs(xy(H_X, H_TTFPB, H_OFFSET.ttfpb), H_BLUE, 1.4),
      ],
    },
    options: opts(BOX_H, PLOT_H, {
      x: axis("bottom", 15, 70, H_X_TICKS, mb(BOX_H, PLOT_H), (v) => String(v)),
      y: axis("left", 0, 100, [], ml(BOX_H, PLOT_H), () => "", { grid: false, labels: false }),
    }),
    plugins: [
      decor(BOX_H, "lbrt", (ctx) => {
        letter(ctx, "h", 320, 396);
        text(ctx, "Intensity (a.u.)", 323.3, 460, { rot: ROT, align: "center" });
        text(ctx, "2\u03B8 (degree)", 507, 547.7, { align: "center" });
        text(ctx, "(003)", 369, 403.3, { size: LEG_FS });
        text(ctx, "(104)", 523.3, 407.7, { size: LEG_FS, align: "center" });
        text(ctx, "(003)/(104)=2.65", 384, 451.7, { size: LEG_FS });
        text(ctx, "(003)/(104)=3.67", 384, 498.3, { size: LEG_FS });
        hline(ctx, 611.7, 633.3, 402.7, H_GREEN, 2);
        text(ctx, "Fresh", 636.7, 402.7, { size: LEG_FS });
        hline(ctx, 613, 637, 446.7, H_ORANGE, 2);
        text(ctx, "Blank", 639.5, 446.7, { size: LEG_FS });
        hline(ctx, 612, 635, 491.7, H_BLUE, 2);
        text(ctx, "TTFPB", 636.7, 491.7, { size: LEG_FS });
      }),
    ],
  };
}

const PANELS: { box: Box; build: () => any }[] = [
  { box: BOX_A, build: configA },
  { box: BOX_B, build: configB },
  { box: BOX_C, build: configC },
  { box: BOX_D, build: configD },
  { box: BOX_DI, build: configDI },
  { box: BOX_E, build: configE },
  { box: BOX_F, build: configF },
  { box: BOX_GL, build: configGL },
  { box: BOX_GR, build: configGR },
  { box: BOX_H, build: configH },
];

function ChartCanvas({ box, build }: { box: Box; build: () => any }) {
  const ref = useRef<HTMLCanvasElement>(null);
  useEffect(() => {
    const chart = new Chart(ref.current as HTMLCanvasElement, build());
    return () => chart.destroy();
  }, []);
  return (
    <canvas
      ref={ref}
      width={box.w}
      height={box.h}
      style={{ position: "absolute", left: box.x, top: box.y, width: box.w + "px", height: box.h + "px" }}
    />
  );
}

export default function App() {
  return (
    <div style={{ position: "absolute", left: 0, top: 0, width: 712, height: 558, background: "#fff", overflow: "hidden", fontFamily: FONT }}>
      {PANELS.map((p, i) => (
        <ChartCanvas key={i} box={p.box} build={p.build} />
      ))}
    </div>
  );
}
